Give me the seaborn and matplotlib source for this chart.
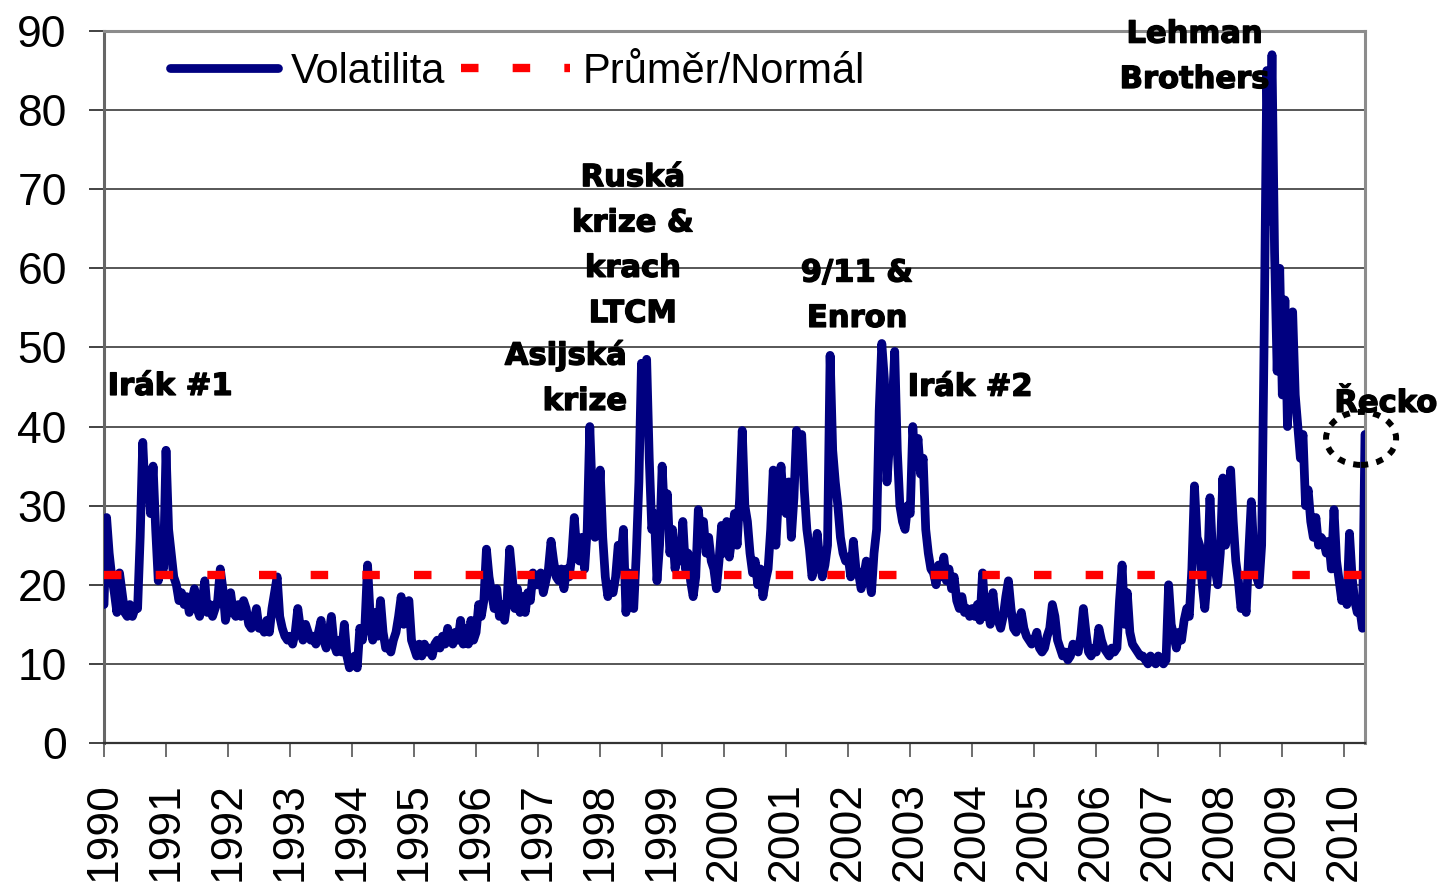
import numpy as np
import pandas as pd
import matplotlib
matplotlib.use("Agg")
import matplotlib.pyplot as plt
import matplotlib.patheffects as pe
from matplotlib.patches import Ellipse
import seaborn as sns

# Volatilita po pulmesicich (1. a 15. den v mesici)
v1990 = [17.5, 28.5, 24, 21, 19, 16.5, 21.5, 19, 16.5, 16, 17.5, 16, 17, 17, 26, 38, 31, 34.5, 29, 35, 27, 20.5, 24, 22]
v1991 = [37, 27, 24, 21, 20, 18, 19, 17.5, 18.5, 16.5, 18, 19.5, 17, 16, 18, 20.5, 16.5, 17.5, 16, 17, 18, 22, 19.5, 15.5]
v1992 = [17, 19, 16.5, 16, 17.5, 16, 18, 17, 15, 14.5, 15.5, 17, 14.5, 15, 14, 15.5, 14, 17, 19, 21, 16, 14.5, 13.5, 13]
v1993 = [13.5, 12.5, 14, 17, 14.5, 13, 15, 14, 13, 13.5, 12.5, 14, 15.5, 13, 12, 13.5, 16, 12.5, 11.5, 13, 11.5, 15, 11, 9.5]
v1994 = [10, 11, 9.5, 14.5, 13, 15, 22.5, 16, 13, 16.5, 13.5, 18, 14, 12, 12.5, 11.5, 13, 14, 16, 18.5, 15, 17.5, 18, 13]
v1995 = [12, 11, 12.5, 11, 12.5, 11.5, 12, 11, 12.5, 13, 12, 13.5, 12.5, 14.5, 13, 12.5, 14, 13, 15.5, 12.5, 14.5, 12.5, 15.5, 13]
v1996 = [14, 17.5, 16, 18, 24.5, 21, 19, 17, 19.5, 16, 17.5, 15.5, 18, 24.5, 21, 17, 19.5, 16.5, 18.5, 16.5, 19, 18, 21.5, 20]
v1997 = [20, 21.5, 19, 20.5, 22, 25.5, 23, 21, 20.5, 22, 19.5, 22, 21, 23.5, 28.5, 24, 23, 26, 22, 27, 40, 31, 26, 28]
v1998 = [34.5, 26, 21, 18.5, 20, 19, 21, 25, 23, 27, 16.5, 21.5, 19, 17, 24, 33, 48, 40, 48.5, 36, 27, 29, 20.5, 25]
v1999 = [35, 28, 31.5, 24, 27, 22, 25, 23, 28, 22, 24, 20.5, 18.5, 21, 29.5, 26, 28, 24, 26, 23, 22, 19.5, 23, 27.5]
v2000 = [24, 28, 23.5, 26, 29, 25, 31, 39.5, 30, 28, 24, 21.5, 23, 20, 22, 18.5, 20.5, 22, 27, 34.5, 25, 31, 35, 30]
v2001 = [29, 33, 26, 31, 39.5, 35, 39, 32, 27, 24.5, 21, 22.5, 26.5, 23, 21, 22.5, 25, 49, 37, 33, 30, 26, 24, 23]
v2002 = [23.5, 21, 25.5, 22, 21.5, 19.5, 21, 23, 21, 19, 24, 27, 42, 50.5, 46, 33, 38, 42, 49.5, 37, 30, 28, 27, 30]
v2003 = [29, 40, 35, 38.5, 34, 36, 27, 24, 22, 21.5, 20, 22.5, 21, 23.5, 20.5, 22, 19.5, 21, 18, 17, 18.5, 16.5, 17, 16]
v2004 = [17, 16, 17.5, 15.5, 21.5, 16, 17, 15, 19, 16, 15.5, 14.5, 16, 18.5, 20.5, 17, 14.5, 14, 15.5, 16.5, 14.5, 13.5, 13, 12.5]
v2005 = [13, 14, 12, 11.5, 12, 13.5, 14.5, 17.5, 16, 13, 12, 11, 11.5, 10.5, 11, 12.5, 12, 11.5, 13.5, 17, 14, 11.5, 11, 12]
v2006 = [11.5, 14.5, 13, 12, 11.5, 11, 12, 11.5, 12, 18, 22.5, 15, 19, 14, 12.5, 12, 11.5, 11, 11, 10.5, 10, 11, 10.5, 10]
v2007 = [11, 10.5, 10, 10.5, 20, 15, 13.5, 12, 14, 13, 15.5, 17, 16, 22, 32.5, 26, 25, 20, 17, 21, 31, 24, 22, 20]
v2008 = [24, 33.5, 25, 27, 34.5, 28, 23, 20.5, 17, 18.5, 16.5, 24, 30.5, 24, 21, 20, 25, 52, 85, 66, 87, 62, 47, 60]
v2009 = [44, 56, 40, 50, 54.5, 44, 40, 36, 39, 30, 32, 28, 26, 28.5, 25, 26, 25.5, 24, 25.5, 22, 29.5, 23, 20.5, 18]
v2010 = [20, 17.5, 26.5, 21, 18, 16.5, 17, 14.5, 39]

prumer = 21.2  # prumerna / normalni volatilita
roky = list(range(1990, 2011))

volatilita = (v1990 + v1991 + v1992 + v1993 + v1994 + v1995 + v1996 + v1997 + v1998 + v1999
              + v2000 + v2001 + v2002 + v2003 + v2004 + v2005 + v2006 + v2007 + v2008 + v2009 + v2010)
df = pd.DataFrame({"rok": 1990 + np.arange(len(volatilita)) / 24, "vol": volatilita})

sns.set_theme(style="white")
plt.rcParams["font.family"] = ["Liberation Sans", "DejaVu Sans"]
plt.rcParams["text.color"] = "black"

fig = plt.figure(figsize=(14.41, 8.82), dpi=100)
ax = fig.add_axes([104 / 1441, 1 - 743 / 882, (1365 - 104) / 1441, (743 - 31) / 882])

sns.lineplot(data=df, x="rok", y="vol", ax=ax, color="#000080", linewidth=6.3,
             solid_joinstyle="round", solid_capstyle="round", label="Volatilita", zorder=3)
ax.axhline(prumer, color="#ff0000", linewidth=6.0, dashes=(2.1, 4.1), label="Průměr/Normál", zorder=4)

ax.set_xlim(df["rok"].iloc[0], df["rok"].iloc[-1])
ax.set_ylim(0, 90)
ax.set_yticks(range(0, 91, 10))
ax.set_xticks(roky)
ax.set_xticklabels([str(r) for r in roky], rotation=90)
ax.set_xlabel("")
ax.set_ylabel("")

ax.grid(axis="y", color="#3a3a3a", linewidth=1.2)
ax.set_axisbelow(True)
for s in ["top", "right"]:
    ax.spines[s].set_color("#8c8c8c")
    ax.spines[s].set_linewidth(2.2)
ax.spines["left"].set_color("#666666")
ax.spines["left"].set_linewidth(2.2)
ax.spines["bottom"].set_color("#333333")
ax.spines["bottom"].set_linewidth(1.6)

ax.tick_params(axis="y", direction="out", length=10.8, width=1.2, color="#222222",
               labelcolor="black", pad=16, labelsize=32, left=True)
ax.tick_params(axis="x", direction="out", length=10, width=1.2, color="#555555",
               labelcolor="black", pad=18, labelsize=32, bottom=True)

leg = ax.legend(loc="center left", bbox_to_anchor=(0.052, 0.943), ncol=2, frameon=False,
                fontsize=30, handlelength=2.6, handletextpad=0.3, columnspacing=0.4,
                borderpad=0, borderaxespad=0, labelcolor="black")

# popisky udalosti; y = uroven uckari posledniho radku
popis = dict(family=["DejaVu Sans"], weight="bold", size=22, color="black",
             va="baseline", linespacing=1.71, clip_on=False, zorder=6,
             path_effects=[pe.withStroke(linewidth=1.0, foreground="black")])
ax.text(1990.06, 44.0, "Irák #1", ha="left", **popis)
ax.text(1998.43, 42.1, "Asijská\nkrize", ha="right", multialignment="right", **popis)
ax.text(1998.525, 53.2, "Ruská\nkrize &\nkrach\nLTCM", ha="center", multialignment="center", **popis)
ax.text(2002.14, 52.6, "9/11 &\nEnron", ha="center", multialignment="center", **popis)
ax.text(2002.96, 43.9, "Irák #2", ha="left", **popis)
ax.text(2007.58, 82.8, "Lehman\nBrothers", ha="center", multialignment="center", **popis)
ax.text(2009.84, 41.85, "Řecko", ha="left", **popis)

kruh = Ellipse((2010.27, 38.5), width=1.13, height=6.7, fill=False, edgecolor="black",
               linewidth=4.3, linestyle=(0, (1.2, 1.4)), clip_on=False, zorder=7)
ax.add_patch(kruh)

fig.savefig("out.png", dpi=100)
